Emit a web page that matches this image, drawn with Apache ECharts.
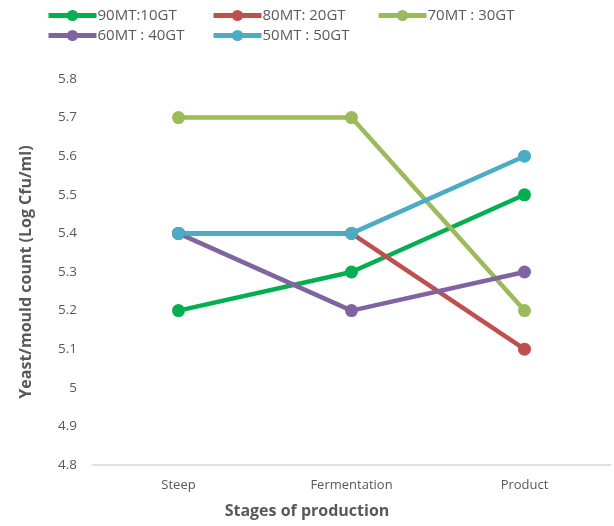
<!DOCTYPE html>
<html>
<head>
<meta charset="utf-8">
<script src="https://cdn.jsdelivr.net/npm/echarts@6/dist/echarts.min.js"></script>
<style>
  html, body { margin: 0; padding: 0; background: #fff; }
  #chart { width: 614px; height: 526px; }
</style>
</head>
<body>
<div id="chart"></div>
<script>
// Production stages and yeast/mould counts (Log Cfu/ml) per blend
const stages = ['Steep', 'Fermentation', 'Product'];
const seriesNames = ['90MT:10GT', '80MT: 20GT', '70MT : 30GT', '60MT : 40GT', '50MT : 50GT'];
const mt90 = [5.2, 5.3, 5.5];
const mt80 = [5.4, 5.4, 5.1];
const mt70 = [5.7, 5.7, 5.2];
const mt60 = [5.4, 5.2, 5.3];
const mt50 = [5.4, 5.4, 5.6];
const yTicks = { min: 4.8, max: 5.8, step: 0.1 };

const values = [mt90, mt80, mt70, mt60, mt50];
const colors = ['#00B050', '#C0504D', '#9BBB59', '#8064A2', '#4BACC6'];
const font = '"Open Sans", "Noto Sans", sans-serif';

// One legend per entry so the entries sit in fixed columns
const legendPos = [
  { left: 41, top: 3 }, { left: 206, top: 3 }, { left: 371, top: 3 },
  { left: 41, top: 23 }, { left: 206, top: 23 }
];
const legends = seriesNames.map((n, i) => ({
  data: [n],
  left: legendPos[i].left,
  top: legendPos[i].top,
  itemWidth: 48,
  itemHeight: 14,
  itemGap: 2,
  lineStyle: { width: 5 },
  textStyle: { fontFamily: font, fontSize: 15, color: '#595959', padding: [0, 0, 0, -4] },
  itemStyle: { borderWidth: 0 }
}));

const chart = echarts.init(document.getElementById('chart'), null, { renderer: 'canvas' });
chart.setOption({
  animation: false,
  color: colors,
  legend: legends,
  grid: { left: 92, right: 3, top: 79, bottom: 61, containLabel: false },
  xAxis: {
    type: 'category',
    data: stages,
    boundaryGap: true,
    axisLine: { lineStyle: { color: '#D9D9D9', width: 1.5 } },
    axisTick: { show: false },
    axisLabel: { fontFamily: font, fontSize: 13, color: '#595959', margin: 14 }
  },
  yAxis: {
    type: 'value',
    min: yTicks.min,
    max: yTicks.max,
    interval: yTicks.step,
    name: 'Yeast/mould count (Log Cfu/ml)',
    nameLocation: 'middle',
    nameGap: 58,
    nameTextStyle: { fontFamily: font, fontSize: 16, fontWeight: 'bold', color: '#595959' },
    axisLine: { show: false },
    axisTick: { show: false },
    splitLine: { show: false },
    axisLabel: {
      fontFamily: font, fontSize: 13.5, color: '#595959', margin: 15,
      formatter: v => String(Math.round(v * 10) / 10)
    }
  },
  graphic: [{
    type: 'text',
    left: 'center',
    top: 503,
    style: {
      text: 'Stages of production',
      font: 'bold 16px ' + font,
      fill: '#595959'
    }
  }],
  series: seriesNames.map((n, i) => ({
    name: n,
    type: 'line',
    data: values[i],
    symbol: 'circle',
    symbolSize: 13,
    lineStyle: { width: 4.5, color: colors[i] },
    itemStyle: { color: colors[i] }
  }))
});
</script>
</body>
</html>
